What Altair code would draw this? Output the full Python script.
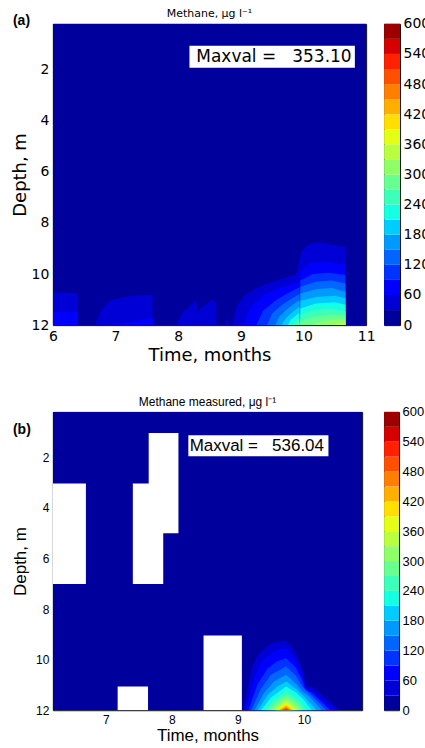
import altair as alt
import numpy as np
import pandas as pd

# ---------------- data ----------------
LEVELS = list(range(0, 601, 30))          # contour band edges
CBAR_TICKS = list(range(0, 601, 60))
A_X_TICKS = [6, 7, 8, 9, 10, 11]
B_X_TICKS = [7, 8, 9, 10]
Y_TICKS = [2, 4, 6, 8, 10, 12]
A_X_DOMAIN = [6.0, 11.0]
B_X_DOMAIN = [6.2, 10.88]
DEPTH_DOMAIN = [0.2, 12.0]
BOTTOM = 12.0

# (level, times, depths): contour line of each level; band is filled from the line down to the bottom
A_CONTOURS = [
    (0, [6.0, 11.0], [0.2, 0.2]),
    (30, [6.0, 6.4], [10.72, 10.75]),
    (30, [6.67, 6.77, 6.92, 7.24, 7.59], [12.0, 11.41, 11.02, 10.86, 10.82]),
    (30, [7.96, 8.06, 8.2, 8.29, 8.30, 8.54, 8.61], [12.0, 11.54, 11.22, 10.99, 11.48, 10.99, 11.15]),
    (30, [8.76, 8.78, 8.80], [12.0, 11.72, 11.8]),
    (30, [8.86, 8.93, 9.05, 9.25, 9.5, 9.75, 9.88, 9.97, 10.1, 10.27, 10.47, 10.67],
         [12.0, 11.3, 10.85, 10.55, 10.3, 10.1, 10.0, 9.1, 8.8, 8.75, 8.85, 8.92]),
    (60, [6.0, 6.4], [11.48, 11.5]),
    (60, [7.03, 7.6], [12.0, 11.7]),
    (60, [9.05, 9.15, 9.35, 9.6, 9.935], [12.0, 11.3, 10.85, 10.55, 10.3]),
    (60, [9.95, 10.1, 10.35, 10.6, 10.67], [9.9, 9.57, 9.52, 9.62, 9.65]),
    (90, [9.25, 9.35, 9.55, 9.75, 9.935], [12.0, 11.45, 11.05, 10.75, 10.52]),
    (90, [9.95, 10.15, 10.4, 10.67], [10.25, 10.0, 9.95, 10.04]),
    (120, [9.42, 9.5, 9.65, 9.8, 9.935], [12.0, 11.55, 11.22, 10.98, 10.78]),
    (120, [9.95, 10.2, 10.45, 10.67], [10.5, 10.3, 10.25, 10.37]),
    (150, [9.55, 9.62, 9.75, 9.935], [12.0, 11.65, 11.35, 11.02]),
    (150, [9.95, 10.2, 10.45, 10.67], [10.76, 10.6, 10.55, 10.69]),
    (180, [9.65, 9.72, 9.83, 9.935], [12.0, 11.72, 11.48, 11.28]),
    (180, [9.95, 10.2, 10.5, 10.67], [11.05, 10.9, 10.85, 10.95]),
    (210, [9.75, 9.8, 9.935], [12.0, 11.78, 11.52]),
    (210, [9.95, 10.2, 10.5, 10.67], [11.35, 11.15, 11.1, 11.2]),
    (240, [9.83, 9.87, 9.935], [12.0, 11.86, 11.74]),
    (240, [9.95, 10.15, 10.4, 10.67], [11.6, 11.42, 11.35, 11.45]),
    (270, [9.89, 9.935], [12.0, 11.9]),
    (270, [9.95, 10.15, 10.45, 10.67], [11.85, 11.68, 11.58, 11.62]),
    (300, [10.12, 10.3, 10.5, 10.67], [12.0, 11.85, 11.78, 11.78]),
    (330, [10.45, 10.58, 10.67], [12.0, 11.92, 11.9]),
]

B_CONTOURS = [
    (0, [6.2, 10.88], [0.2, 0.2]),
    (30, [9.08, 9.2, 9.3, 9.5, 9.73, 9.85, 9.97, 10.03, 10.15, 10.54], [12, 10.4, 9.8, 9.35, 9.24, 9.6, 10.3, 11.0, 11.12, 12]),
    (60, [9.12, 9.25, 9.35, 9.55, 9.73, 9.85, 9.97, 10.02, 10.12, 10.47], [12, 10.7, 10.1, 9.65, 9.54, 9.9, 10.5, 11.1, 11.22, 12]),
    (90, [9.16, 9.3, 9.45, 9.6, 9.73, 9.87, 9.97, 10.02, 10.12, 10.4], [12, 10.95, 10.35, 10.05, 9.94, 10.3, 10.8, 11.2, 11.32, 12]),
    (120, [9.2, 9.35, 9.5, 9.73, 9.88, 9.97, 10.1, 10.34], [12, 11.15, 10.6, 10.27, 10.65, 11.05, 11.38, 12]),
    (150, [9.25, 9.4, 9.55, 9.73, 9.88, 9.97, 10.08, 10.27], [12, 11.3, 10.85, 10.6, 10.95, 11.25, 11.45, 12]),
    (180, [9.3, 9.45, 9.6, 9.73, 9.88, 10.0, 10.19], [12, 11.4, 11.05, 10.86, 11.15, 11.45, 12]),
    (210, [9.35, 9.5, 9.73, 9.88, 10.0, 10.12], [12, 11.5, 11.06, 11.3, 11.6, 12]),
    (240, [9.4, 9.55, 9.73, 9.9, 10.05], [12, 11.6, 11.26, 11.55, 12]),
    (270, [9.45, 9.6, 9.73, 9.9, 9.99], [12, 11.65, 11.4, 11.7, 12]),
    (300, [9.5, 9.73, 9.88, 9.95], [12, 11.52, 11.8, 12]),
    (330, [9.54, 9.73, 9.92], [12, 11.62, 12]),
    (360, [9.57, 9.73, 9.88], [12, 11.7, 12]),
    (390, [9.6, 9.73, 9.85], [12, 11.76, 12]),
    (420, [9.62, 9.73, 9.82], [12, 11.82, 12]),
    (450, [9.64, 9.73, 9.8], [12, 11.87, 12]),
    (480, [9.66, 9.73, 9.78], [12, 11.92, 12]),
    (510, [9.68, 9.73, 9.76], [12, 11.96, 12]),
]

# missing measurements (blank areas) in panel (b)
B_GAP_T0 = [6.2, 7.41, 7.65, 7.18, 8.48]
B_GAP_T1 = [6.70, 7.87, 8.10, 7.64, 9.06]
B_GAP_D0 = [3.03, 3.03, 1.03, 11.06, 9.04]
B_GAP_D1 = [7.01, 7.01, 5.0, 12.0, 12.0]

NBSP = "\u00a0"
A_MAXVAL = "Maxval" + NBSP + "=" + NBSP * 3 + "353.10"
B_MAXVAL = "Maxval" + NBSP + "=" + NBSP * 3 + "536.04"
A_BOX = [8.18, 10.82, 1.06, 1.92]   # t0, t1, d0, d1
B_BOX = [8.25, 10.37, 1.12, 1.95]
A_TEXT_POS = [8.29, 1.49]
B_TEXT_POS = [8.27, 1.53]


# ---------------- style ----------------
def jet_hex(level):
    v = (level + 15) / 600.0
    r = np.interp(v, [0, 0.35, 0.66, 0.89, 1], [0, 0, 1, 1, 0.5])
    g = np.interp(v, [0, 0.125, 0.375, 0.64, 0.91, 1], [0, 0, 1, 1, 0, 0])
    b = np.interp(v, [0, 0.11, 0.34, 0.65, 1], [0.5, 1, 1, 0, 0])
    return "#%02x%02x%02x" % (round(r * 255), round(g * 255), round(b * 255))


COLORS = [jet_hex(l) for l in LEVELS[:-1]]


def contour_df(contours):
    rows = []
    for seg, (lev, ts, ds) in enumerate(contours):
        for t, d in zip(ts, ds):
            rows.append({"level": lev, "seg": seg, "t": t, "d": d})
    return pd.DataFrame(rows)


def panel(contours, xdom, xticks, font, tick_fs, title_fs, ttl_pad_y, ttl_pad_x,
          title_text, title_fs_top, title_offset, label, label_dy, box, maxval, text_pos,
          maxval_font, maxval_fs, width, height, gaps=None):
    df = contour_df(contours)
    xscale = alt.Scale(domain=xdom, nice=False, zero=False)
    yscale = alt.Scale(domain=DEPTH_DOMAIN, nice=False, zero=False, reverse=True)
    xaxis = alt.Axis(values=xticks, title="Time, months", format="d", ticks=False, domain=False,
                     grid=False, labelFont=font, labelFontSize=tick_fs, titleFont=font,
                     titleFontSize=title_fs, titleFontWeight="normal", labelColor="black",
                     titleColor="black", labelPadding=4, titlePadding=ttl_pad_x, labelFlush=False)
    yaxis = alt.Axis(values=Y_TICKS, title="Depth, m", format="d", ticks=False, domain=False,
                     grid=False, labelFont=font, labelFontSize=tick_fs, titleFont=font,
                     titleFontSize=title_fs, titleFontWeight="normal", labelColor="black",
                     titleColor="black", labelPadding=4, titlePadding=ttl_pad_y, labelFlush=False)

    layers = []
    for lev in sorted(df["level"].unique()):
        layers.append(
            alt.Chart(df).transform_filter(alt.datum.level == int(lev))
            .mark_area(color=jet_hex(int(lev)), clip=True, opacity=1)
            .encode(
                x=alt.X("t:Q", scale=xscale, axis=xaxis),
                y=alt.Y("d:Q", scale=yscale, axis=yaxis, stack=None),
                y2=alt.datum(BOTTOM),
                detail="seg:N",
            )
        )
    if gaps is not None:
        gdf = pd.DataFrame({"t0": gaps[0], "t1": gaps[1], "d0": gaps[2], "d1": gaps[3]})
        layers.append(
            alt.Chart(gdf).mark_rect(color="white", clip=True).encode(
                x=alt.X("t0:Q", scale=xscale, axis=xaxis), x2="t1:Q",
                y=alt.Y("d0:Q", scale=yscale, axis=yaxis), y2="d1:Q")
        )
    bdf = pd.DataFrame({"t0": [box[0]], "t1": [box[1]], "d0": [box[2]], "d1": [box[3]],
                        "tx": [text_pos[0]], "ty": [text_pos[1]], "s": [maxval]})
    layers.append(
        alt.Chart(bdf).mark_rect(color="white").encode(
            x=alt.X("t0:Q", scale=xscale, axis=xaxis), x2="t1:Q",
            y=alt.Y("d0:Q", scale=yscale, axis=yaxis), y2="d1:Q")
    )
    layers.append(
        alt.Chart(bdf).mark_text(align="left", baseline="middle", font=maxval_font,
                                 fontSize=maxval_fs, color="black").encode(
            x=alt.X("tx:Q", scale=xscale, axis=xaxis),
            y=alt.Y("ty:Q", scale=yscale, axis=yaxis), text="s:N")
    )
    layers.append(
        alt.Chart(pd.DataFrame({"s": [label]})).mark_text(
            align="left", baseline="middle", font="Liberation Sans", fontWeight="bold",
            fontSize=14, color="black").encode(
            x=alt.value(-40), y=alt.value(label_dy), text="s:N")
    )
    return alt.layer(*layers).properties(
        width=width, height=height,
        title=alt.TitleParams(title_text, font=font, fontSize=title_fs_top,
                              fontWeight="normal", color="black", offset=title_offset),
    )


def colorbar(font, fs, width, height):
    cdf = pd.DataFrame({"lo": LEVELS[:-1], "hi": LEVELS[1:]})
    return alt.Chart(cdf).mark_rect().encode(
        y=alt.Y("lo:Q", scale=alt.Scale(domain=[0, 600], nice=False, zero=False),
                axis=alt.Axis(orient="right", values=CBAR_TICKS, title=None, ticks=False,
                              domain=False, grid=False, labelFont=font, labelFontSize=fs,
                              labelColor="black", labelPadding=3, labelFlush=False)),
        y2="hi:Q",
        color=alt.Color("lo:O", scale=alt.Scale(domain=LEVELS[:-1], range=COLORS), legend=None),
    ).properties(width=width, height=height)


pa = panel(A_CONTOURS, A_X_DOMAIN, A_X_TICKS, "DejaVu Sans", 14, 18, 2, 3,
           "Methane, μg l⁻¹", 11, -5, "(a)", -3, A_BOX, A_MAXVAL, A_TEXT_POS,
           "DejaVu Sans", 17, 314, 302)
ca = colorbar("DejaVu Sans", 14, 16, 302)
pb = panel(B_CONTOURS, B_X_DOMAIN, B_X_TICKS, "Liberation Sans", 12, 17, 6, 2,
           "Methane measured, μg l⁻¹", 12, 3, "(b)", 18, B_BOX, B_MAXVAL, B_TEXT_POS,
           "Liberation Sans", 17, 310, 299,
           gaps=(B_GAP_T0, B_GAP_T1, B_GAP_D0, B_GAP_D1))
cb = colorbar("Liberation Sans", 13, 15, 299)

chart = alt.concat(pa, ca, pb, cb, columns=2, spacing={"row": 87, "column": 18},
                   bounds="flush").properties(
    padding={"left": 10, "top": 6, "right": -6, "bottom": 0}
).configure_view(stroke="black", strokeWidth=1)

chart.save("out.html", embed_options={"renderer": "svg", "actions": False})
